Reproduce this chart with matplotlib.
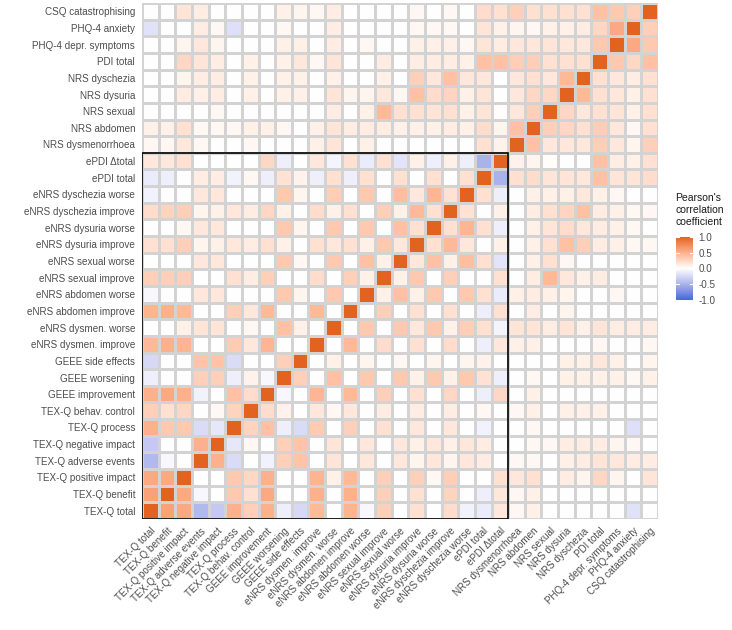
import numpy as np
import matplotlib.pyplot as plt
from matplotlib.colors import ListedColormap, to_rgb
from matplotlib.patches import Rectangle

plt.rcParams['font.family'] = ['Liberation Sans', 'DejaVu Sans']

# variables, bottom to top / left to right
labels = [
    "TEX-Q total", "TEX-Q benefit", "TEX-Q positive impact", "TEX-Q adverse events",
    "TEX-Q negative impact", "TEX-Q process", "TEX-Q behav. control",
    "GEEE improvement", "GEEE worsening", "GEEE side effects",
    "eNRS dysmen. improve", "eNRS dysmen. worse", "eNRS abdomen improve",
    "eNRS abdomen worse", "eNRS sexual improve", "eNRS sexual worse",
    "eNRS dysuria improve", "eNRS dysuria worse", "eNRS dyschezia improve",
    "eNRS dyschezia worse", "ePDI total", "ePDI Δtotal",
    "NRS dysmenorrhoea", "NRS abdomen", "NRS sexual", "NRS dysuria",
    "NRS dyschezia", "PDI total", "PHQ-4 depr. symptoms", "PHQ-4 anxiety",
    "CSQ catastrophising",
]

# lower triangle: correlation of each variable with the ones listed before it
r_benefit = [0.6]
r_pos_impact = [0.55, 0.55]
r_adverse = [-0.45, -0.05, 0.0]
r_negative = [-0.35, 0.0, 0.0, 0.5]
r_process = [0.5, 0.35, 0.35, -0.22, -0.15]
r_behav = [0.3, 0.2, 0.25, 0.0, 0.05, 0.28]
r_geee_impr = [0.5, 0.55, 0.5, -0.08, 0.0, 0.4, 0.22]
r_geee_worse = [-0.1, 0.0, 0.0, 0.3, 0.3, -0.1, 0.08, -0.05]
r_geee_side = [-0.25, 0.0, 0.0, 0.38, 0.38, -0.22, 0.0, 0.0, 0.3]
r_dysmen_impr = [0.45, 0.5, 0.48, 0.0, 0.0, 0.33, 0.15, 0.47, 0.0, 0.0]
r_dysmen_worse = [0.0, 0.0, 0.1, 0.17, 0.17, 0.0, 0.05, 0.0, 0.4, 0.1, 0.0]
r_abd_impr = [0.48, 0.5, 0.45, 0.0, 0.0, 0.3, 0.15, 0.45, 0.0, 0.0, 0.45, 0.0]
r_abd_worse = [-0.05, 0.0, 0.0, 0.15, 0.15, 0.0, 0.0, 0.0, 0.35, 0.07, 0.0, 0.35, 0.0]
r_sex_impr = [0.3, 0.3, 0.3, 0.0, 0.0, 0.2, 0.12, 0.3, 0.0, 0.0, 0.22, 0.0, 0.3, 0.1]
r_sex_worse = [0.0, 0.0, 0.0, 0.15, 0.15, 0.0, 0.0, 0.0, 0.35, 0.05, 0.0, 0.35, 0.0, 0.4, 0.1]
r_dysu_impr = [0.2, 0.2, 0.3, 0.07, 0.1, 0.15, 0.12, 0.2, 0.1, 0.0, 0.2, 0.15, 0.2, 0.1,
               0.35, 0.15]
r_dysu_worse = [0.0, 0.0, 0.05, 0.15, 0.15, 0.0, 0.0, 0.0, 0.35, 0.07, 0.0, 0.35, 0.0,
                0.35, 0.0, 0.4, 0.2]
r_dysc_impr = [0.22, 0.28, 0.32, 0.07, 0.1, 0.15, 0.12, 0.25, 0.1, 0.0, 0.22, 0.1, 0.2,
               0.0, 0.3, 0.1, 0.45, 0.2]
r_dysc_worse = [-0.08, 0.0, 0.0, 0.15, 0.15, 0.0, 0.0, 0.0, 0.35, 0.07, 0.0, 0.32, 0.0,
                0.35, 0.0, 0.42, 0.15, 0.47, 0.18]
r_epdi = [-0.12, -0.1, 0.0, 0.12, 0.12, -0.08, 0.05, -0.1, 0.18, 0.08, -0.1, 0.2, -0.1,
          0.2, 0.0, 0.2, 0.0, 0.2, 0.0, 0.2]
r_epdi_delta = [0.15, 0.15, 0.2, 0.0, 0.0, 0.0, 0.0, 0.25, -0.1, 0.0, 0.15, -0.07, 0.2,
                -0.12, 0.2, -0.17, 0.1, -0.1, 0.1, -0.1, -0.5]
r_nrs_dysmen = [0.05, 0.05, 0.15, 0.05, 0.0, 0.0, 0.05, 0.0, 0.0, 0.0, 0.1, 0.17, 0.0,
                0.1, 0.0, 0.0, 0.0, 0.0, 0.0, 0.0, 0.2, 0.08]
r_nrs_abd = [0.1, 0.1, 0.2, 0.05, 0.05, 0.05, 0.1, 0.1, 0.05, 0.0, 0.1, 0.17, 0.12, 0.12,
             0.12, 0.1, 0.1, 0.1, 0.12, 0.1, 0.22, 0.07, 0.4]
r_nrs_sex = [0.0, 0.0, 0.0, 0.0, 0.05, 0.0, 0.0, 0.0, 0.0, 0.0, 0.0, 0.12, 0.0, 0.1,
             0.45, 0.2, 0.2, 0.17, 0.2, 0.1, 0.17, 0.02, 0.15, 0.3]
r_nrs_dysu = [0.0, 0.0, 0.12, 0.1, 0.12, 0.0, 0.1, 0.0, 0.1, 0.1, 0.0, 0.17, 0.07, 0.07,
              0.15, 0.05, 0.4, 0.22, 0.27, 0.1, 0.17, 0.0, 0.15, 0.25, 0.25]
r_nrs_dysc = [0.0, 0.0, 0.07, 0.12, 0.12, 0.0, 0.1, 0.0, 0.1, 0.1, 0.0, 0.1, 0.0, 0.0,
              0.1, 0.0, 0.3, 0.15, 0.4, 0.15, 0.15, 0.0, 0.15, 0.2, 0.15, 0.45]
r_pdi = [0.0, 0.0, 0.25, 0.17, 0.12, 0.0, 0.1, 0.0, 0.1, 0.15, 0.05, 0.17, 0.0, 0.0,
         0.12, 0.0, 0.12, 0.12, 0.12, 0.1, 0.4, 0.4, 0.32, 0.32, 0.2, 0.2, 0.2]
r_phq_depr = [0.0, 0.0, 0.07, 0.15, 0.07, 0.0, 0.0, 0.0, 0.1, 0.1, 0.0, 0.12, 0.0, 0.05,
              0.0, 0.0, 0.1, 0.1, 0.1, 0.05, 0.17, 0.12, 0.15, 0.15, 0.17, 0.15, 0.15, 0.35]
r_phq_anx = [-0.18, 0.0, 0.0, 0.12, 0.05, -0.2, 0.0, 0.0, 0.05, 0.0, 0.0, 0.12, 0.0, 0.0,
             0.0, 0.0, 0.05, 0.05, 0.05, 0.0, 0.17, 0.1, 0.07, 0.05, 0.1, 0.1, 0.12, 0.25,
             0.55]
r_csq = [0.0, 0.0, 0.17, 0.12, 0.0, 0.0, 0.0, 0.0, 0.1, 0.07, 0.05, 0.12, 0.0, 0.0, 0.0,
         0.0, 0.05, 0.0, 0.05, 0.0, 0.22, 0.2, 0.3, 0.2, 0.2, 0.2, 0.2, 0.4, 0.35, 0.3]

lower_rows = [r_benefit, r_pos_impact, r_adverse, r_negative, r_process, r_behav,
              r_geee_impr, r_geee_worse, r_geee_side, r_dysmen_impr, r_dysmen_worse,
              r_abd_impr, r_abd_worse, r_sex_impr, r_sex_worse, r_dysu_impr,
              r_dysu_worse, r_dysc_impr, r_dysc_worse, r_epdi, r_epdi_delta,
              r_nrs_dysmen, r_nrs_abd, r_nrs_sex, r_nrs_dysu, r_nrs_dysc, r_pdi,
              r_phq_depr, r_phq_anx, r_csq]

n = len(labels)
corr = np.eye(n)
for i, row in enumerate(lower_rows, start=1):
    for j, v in enumerate(row):
        corr[i, j] = v
        corr[j, i] = v


# ---- diverging palette interpolated in Lab space (like ggplot's gradient2)
M = np.array([[0.4124, 0.3576, 0.1805],
              [0.2126, 0.7152, 0.0722],
              [0.0193, 0.1192, 0.9505]])
WP = np.array([0.95047, 1.0, 1.08883])
D = 6 / 29


def to_lab(c):
    c = np.array(to_rgb(c))
    lin = np.where(c <= 0.04045, c / 12.92, ((c + 0.055) / 1.055) ** 2.4)
    xyz = M @ lin / WP
    f = np.where(xyz > D ** 3, np.cbrt(xyz), xyz / (3 * D ** 2) + 4 / 29)
    return np.array([116 * f[1] - 16, 500 * (f[0] - f[1]), 200 * (f[1] - f[2])])


def from_lab(lab):
    fy = (lab[0] + 16) / 116
    f = np.array([fy + lab[1] / 500, fy, fy - lab[2] / 200])
    xyz = np.where(f > D, f ** 3, 3 * D ** 2 * (f - 4 / 29)) * WP
    lin = np.clip(np.linalg.solve(M, xyz), 0, 1)
    return np.where(lin <= 0.0031308, 12.92 * lin, 1.055 * lin ** (1 / 2.4) - 0.055)


low, mid, high = to_lab('#3A6BD6'), to_lab('#FFFFFF'), to_lab('#E2631F')
cols = []
for t in np.linspace(-1, 1, 256):
    lab = mid + (high - mid) * t if t >= 0 else mid + (low - mid) * (-t)
    cols.append(np.clip(from_lab(lab), 0, 1))
cmap = ListedColormap(cols)

W, H = 732, 630
fig = plt.figure(figsize=(W / 100, H / 100), dpi=100)
ax = fig.add_axes([142 / W, 1 - 519 / H, 516 / W, 516 / H])

mesh = ax.pcolormesh(np.arange(n + 1), np.arange(n + 1), corr, cmap=cmap,
                     vmin=-1, vmax=1, edgecolors='#D3D3D3', linewidth=0.8)
ax.add_patch(Rectangle((0, 0), 22, 22, fill=False, edgecolor='black', linewidth=1.2,
                       zorder=3))
ax.set_xlim(0, n)
ax.set_ylim(0, n)
ax.set_xticks(np.arange(n) + 0.5)
ax.set_xticklabels(labels, rotation=45, ha='right', va='top', rotation_mode='anchor')
ax.set_yticks(np.arange(n) + 0.5)
ax.set_yticklabels(labels)
ax.tick_params(length=0, labelsize=7.1, colors='#4D4D4D', pad=5)
for s in ax.spines.values():
    s.set_visible(False)

# colour bar
cax = fig.add_axes([676 / W, 1 - 300 / H, 17 / W, 63 / H])
cb = fig.colorbar(mesh, cax=cax, ticks=[-1, -0.5, 0, 0.5, 1])
cb.outline.set_visible(False)
cb.ax.set_yticklabels(['-1.0', '-0.5', '0.0', '0.5', '1.0'])
cax.tick_params(length=0, labelsize=7.1, colors='#4D4D4D', pad=4)
for t in [-1, -0.5, 0, 0.5, 1]:
    cax.plot([0, 0.2], [t, t], color='white', lw=0.8)
    cax.plot([0.8, 1], [t, t], color='white', lw=0.8)
cax.set_xlim(0, 1)
fig.text(675 / W, 1 - 193 / H, "Pearson's\ncorrelation\ncoefficient", fontsize=7.5,
         color='#1A1A1A', va='top', ha='left', linespacing=1.25)

plt.savefig('out.png', dpi=100)
